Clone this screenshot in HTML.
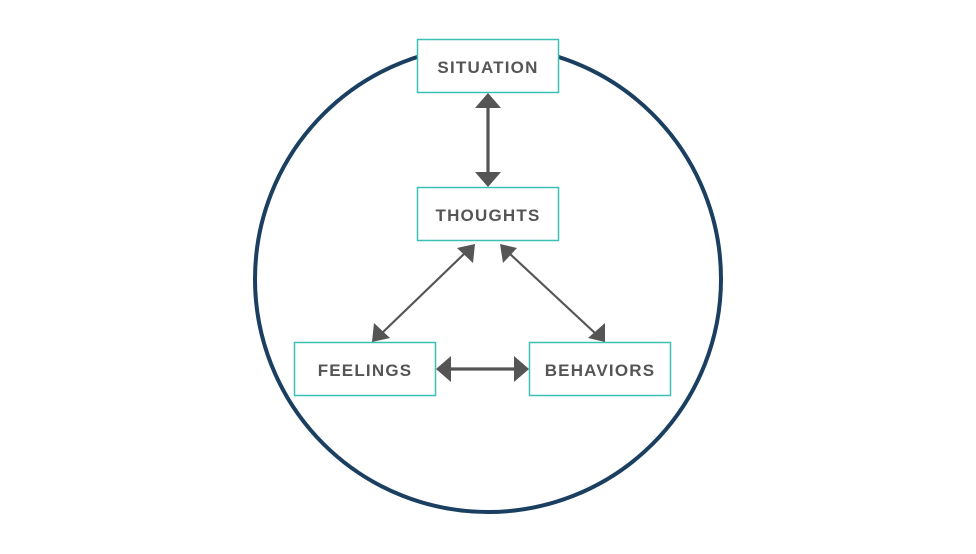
<!DOCTYPE html>
<html><head><style>
body{margin:0;background:#fff;}
svg{display:block}
text{font-family:"Liberation Sans",sans-serif;font-weight:bold;font-size:17px;fill:#555;letter-spacing:1.2px}
</style></head><body>
<svg width="976" height="554" viewBox="0 0 976 554">
<circle cx="488" cy="279" r="233" fill="none" stroke="#1b3f60" stroke-width="4"/>
<g fill="#fff" stroke="#3cc0b4" stroke-width="1.5">
<rect x="417.5" y="39.5" width="141" height="53"/>
<rect x="417.5" y="187.5" width="141" height="53"/>
<rect x="294.5" y="342.5" width="141" height="53"/>
<rect x="529.5" y="342.5" width="141" height="53"/>
</g>
<g text-anchor="middle">
<text x="488" y="73">SITUATION</text>
<text x="488" y="221">THOUGHTS</text>
<text x="365" y="376">FEELINGS</text>
<text x="600" y="376">BEHAVIORS</text>
</g>
<g stroke="#555" stroke-width="3.2" fill="none">
<line x1="488" y1="105" x2="488" y2="174"/>
<line x1="448" y1="369" x2="516" y2="369"/>
</g>
<g stroke="#555" stroke-width="2.2">
<line x1="464" y1="254" x2="381" y2="334"/>
<line x1="510" y1="254" x2="596" y2="334"/>
</g>
<g fill="#555">
<polygon points="488,93 475,108 501,108"/>
<polygon points="488,187 475,172 501,172"/>
<polygon points="436,369 451,356 451,382"/>
<polygon points="529,369 514,356 514,382"/>
<polygon points="475,244 473,263 457,248"/>
<polygon points="372,342 374,323 390,338"/>
<polygon points="500,244 517,248 503,263"/>
<polygon points="605,342 605,323 588,338"/>
</g>
</svg>
</body></html>
